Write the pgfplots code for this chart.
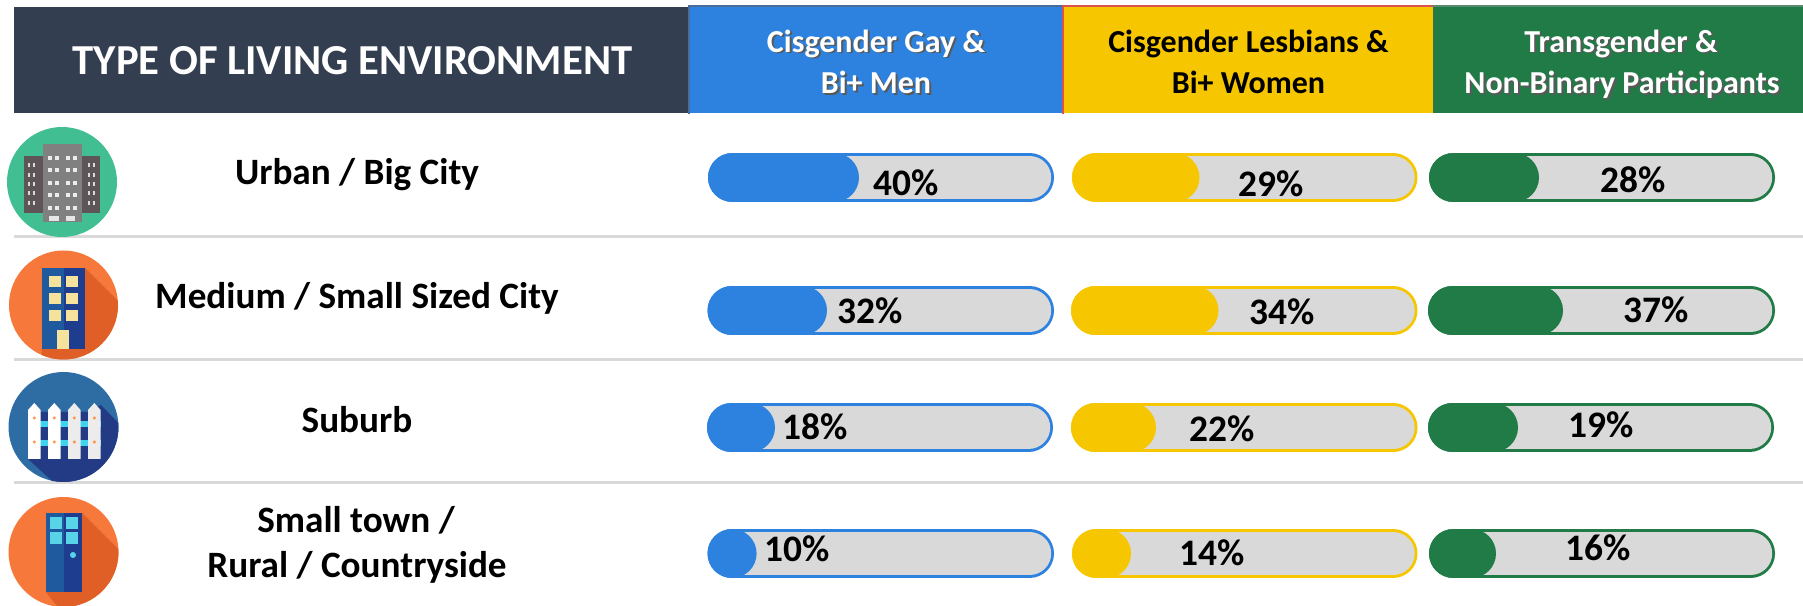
\documentclass[border=0pt]{standalone}
\usepackage{pgfplots}
\pgfplotsset{compat=1.18}
\usepackage{fontspec}
\setmainfont{Carlito}
\definecolor{cDark}{HTML}{333F50}
\definecolor{cBlue}{HTML}{2C82DE}
\definecolor{cYellow}{HTML}{F6C600}
\definecolor{cGreen}{HTML}{217B47}
\definecolor{cTrack}{HTML}{D9D9D9}
\definecolor{cOrange}{HTML}{F6783A}
\definecolor{cOrangeD}{HTML}{E05F26}
\definecolor{cNavy}{HTML}{233A85}
\definecolor{cSteel}{HTML}{2E6CA4}
\definecolor{cCyan}{HTML}{3FD3EE}
\definecolor{cCream}{HTML}{F5E29C}
\definecolor{cTeal}{HTML}{41BF93}
\definecolor{cPane}{HTML}{58D3E8}
\definecolor{cDoorL}{HTML}{1F5A9E}
\definecolor{cDoorR}{HTML}{1F3D8E}
\definecolor{cEdgeB}{HTML}{4A6C9C}
\definecolor{cEdgeY}{HTML}{D9534F}
\definecolor{cEdgeG}{HTML}{5A8A70}
\definecolor{cTowerS}{HTML}{5D5558}
% one track, with its fill: colour, row, start, end of fill, end of track (centres of the round caps)
\newcommand\pbar[5]{%
  \addplot[#1,line width=24.5pt,line cap=round] coordinates {(#3,#2) (#5,#2)};
  \addplot[cTrack,line width=21.7pt,line cap=round] coordinates {(#3,#2) (#5,#2)};
  \addplot[#1,line width=24.5pt,line cap=round] coordinates {(#3,#2) (#4,#2)};
}
\newcommand\pct[3]{\node[anchor=base,font=\fontsize{18.7}{20}\selectfont\bfseries] at (axis cs:#1,#2) {#3};}
\newcommand\rowlab[3]{\node[anchor=base,font=\fontsize{18.6}{20}\selectfont\bfseries] at (axis cs:#1,#2) {#3};}
\newcommand\headw[3]{%
  \node[anchor=base,text=black!65,font=\fontsize{16}{20}\selectfont\bfseries] at (axis cs:#1+2,#2+2) {#3};
  \node[anchor=base,text=white,font=\fontsize{16}{20}\selectfont\bfseries] at (axis cs:#1,#2) {#3};}
\begin{document}
\begin{tikzpicture}
\path[use as bounding box] (0,0) rectangle (901.5pt,302.5pt);
\begin{scope}[shift={(0,302.5pt)},x=0.5pt,y=-0.5pt]
\clip (0,0) rectangle (1803,605);
% header cells
\fill[cDark] (14,7) rectangle (688,113);
\fill[cBlue] (689,7) rectangle (1062,113);
\fill[cYellow] (1062,7) rectangle (1433,113);
\fill[cGreen] (1433,7) rectangle (1803,113);
\fill[cEdgeB] (688,5) rectangle (1062,7);
\fill[cEdgeB] (688,5) rectangle (690,114);
\fill[cEdgeY] (1062,5) rectangle (1433,7);
\fill[cEdgeY] (1062,5) rectangle (1064,114);
\fill[cEdgeG] (1433,5) rectangle (1803,7);
% separators
\fill[cTrack] (14,235.5) rectangle (1803,238.5);
\fill[cTrack] (14,358.5) rectangle (1803,361.5);
\fill[cTrack] (14,481.5) rectangle (1803,484.5);
% icon 1: city
\fill[cTeal] (62,182) circle[radius=55];
\fill[cTowerS] (24,156) rectangle (100,213);
\foreach \xx in {29,34,89,94}\foreach \yy in {165,175,184,193,203}{\fill[white!70!gray] (\xx-1.3,\yy-2) rectangle (\xx+1.3,\yy+2);}
\fill[gray] (43,144) rectangle (82,222);
\foreach \xx in {50,57,68,75}\foreach \yy in {158,170,183,195,208}{\fill[white!85!gray] (\xx-1.8,\yy-2) rectangle (\xx+1.8,\yy+2);}
\fill[white!80!gray] (49,216) rectangle (59,221);
\fill[white!80!gray] (66,216) rectangle (75,221);
% icon 2: building
\begin{scope}
\clip (63.5,305) circle[radius=54.5];
\fill[cOrange] (0,240) rectangle (130,370);
\fill[cOrangeD] (85,268) -- (130,313) -- (130,370) -- (40,370) -- (42,349) -- cycle;
\end{scope}
\fill[cDoorL] (42,268) rectangle (64,349);
\fill[cDoorR] (64,268) rectangle (85,349);
\foreach \xx in {49,66}\foreach \yy in {276,293,310}{\fill[cCream] (\xx,\yy) rectangle (\xx+12,\yy+11.5);}
\fill[cCream] (57,330) rectangle (69,349);
% icon 3: fence
\begin{scope}
\clip (63.5,427) circle[radius=55];
\fill[cSteel] (0,365) rectangle (130,490);
\fill[cNavy] (28,412) -- (88,412) -- (101,405) -- (130,435) -- (130,490) -- (62,490) -- (28,459) -- cycle;
\end{scope}
\fill[cCyan] (28,421) rectangle (101,427);
\fill[cCyan] (28,440) rectangle (101,446);
\foreach \xx/\cc in {28/white,48/white,68/white!85!gray,88/white!85!gray}{
  \fill[\cc] (\xx,459) -- (\xx,410) -- (\xx+6.3,403) -- (\xx+12.6,410) -- (\xx+12.6,459) -- cycle;
  \fill[orange!80!red!70!white] (\xx+6.3,418) circle[radius=1.7];
  \fill[orange!80!red!70!white] (\xx+6.3,442) circle[radius=1.7];
}
% icon 4: door
\begin{scope}
\clip (63.5,552) circle[radius=55];
\fill[cOrange] (0,490) rectangle (130,610);
\fill[cOrangeD] (82,513) -- (130,561) -- (130,610) -- (60,610) -- (46,592) -- cycle;
\end{scope}
\fill[cDoorL] (46,513) rectangle (64,592);
\fill[cDoorR] (64,513) rectangle (82,592);
\foreach \xx in {50,66}\foreach \yy in {517,532}{\fill[cPane] (\xx,\yy) rectangle (\xx+12,\yy+12);}
\fill[cPane] (73,555) circle[radius=3];
\end{scope}
\begin{axis}[
  at={(0,0)},anchor=south west,scale only axis,
  width=901.5pt,height=302.5pt,
  xmin=0,xmax=1803,ymin=0,ymax=605,y dir=reverse,
  hide axis,clip=false,
]
% Urban / Big City
\pbar{cBlue}{177.5}{732.5}{834.5}{1029.5}
\pbar{cYellow}{177.5}{1096.5}{1175}{1393}
\pbar{cGreen}{177.5}{1453.5}{1514.5}{1750.5}
% Medium / Small Sized City
\pbar{cBlue}{310.5}{732}{802.5}{1029.5}
\pbar{cYellow}{310.5}{1095.5}{1194}{1393}
\pbar{cGreen}{310.5}{1452.5}{1538.5}{1750.5}
% Suburb
\pbar{cBlue}{427.5}{731.5}{750.5}{1028.5}
\pbar{cYellow}{427.5}{1095.5}{1131.5}{1393}
\pbar{cGreen}{427.5}{1452.5}{1493.5}{1749.5}
% Small town / Rural / Countryside
\pbar{cBlue}{553.5}{732}{732.1}{1029.5}
\pbar{cYellow}{553.5}{1096.5}{1106.5}{1393}
\pbar{cGreen}{553.5}{1453.5}{1471.5}{1750.5}
% percentages
\pct{906}{195}{40\%}
\pct{1271.5}{196}{29\%}
\pct{1633}{192}{28\%}
\pct{870}{323}{32\%}
\pct{1282.5}{324.5}{34\%}
\pct{1656}{322.5}{37\%}
\pct{815}{439.5}{18\%}
\pct{1222.5}{441.5}{22\%}
\pct{1601.5}{437.5}{19\%}
\pct{797}{561.5}{10\%}
\pct{1212}{565.5}{14\%}
\pct{1598}{560.5}{16\%}
% row labels
\rowlab{357}{184}{Urban / Big City}
\rowlab{357}{308}{Medium / Small Sized City}
\rowlab{357}{432.5}{Suburb}
\rowlab{356}{532}{Small town /}
\rowlab{357}{577}{Rural / Countryside}
% header
\node[anchor=base,text=white,font=\fontsize{21.35}{24}\selectfont\bfseries] at (axis cs:352.5,74.5) {TYPE OF LIVING ENVIRONMENT};
\headw{876}{52}{Cisgender Gay \&}
\headw{876}{93}{Bi+ Men}
\node[anchor=base,font=\fontsize{16}{20}\selectfont\bfseries] at (axis cs:1248.5,52) {Cisgender Lesbians \&};
\node[anchor=base,font=\fontsize{16}{20}\selectfont\bfseries] at (axis cs:1248.5,93) {Bi+ Women};
\headw{1621}{52}{Transgender \&}
\headw{1622}{93}{Non-Binary Participants}
\end{axis}
\end{tikzpicture}
\end{document}
